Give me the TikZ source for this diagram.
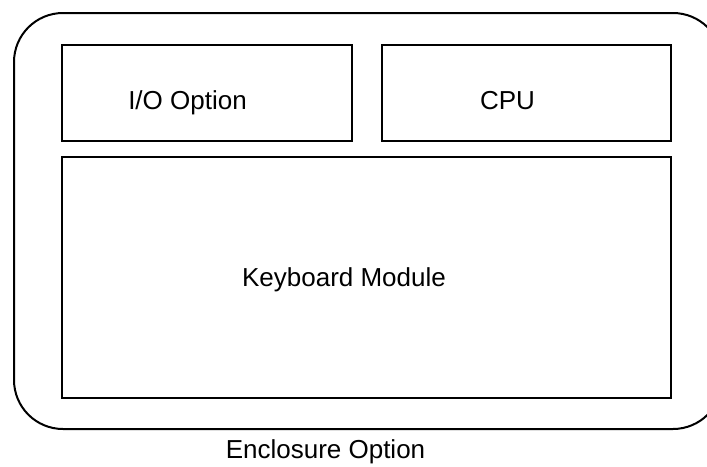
\documentclass[tikz,border=0pt]{standalone}
\usepackage{fontspec}
\setmainfont{Liberation Sans}
\begin{document}
\begin{tikzpicture}[x=1pt,y=-1pt,
  boxstyle/.style={draw=black,line width=2pt,inner sep=0pt,fill=none},
  txt/.style={font=\fontsize{26}{30}\selectfont,anchor=base,inner sep=0pt}]
\clip (0,0) rectangle (707,466);
\draw[line width=2pt,rounded corners=49pt] (14,13) rectangle (722,429);
\node[boxstyle,minimum width=290pt,minimum height=96pt] (io) at (207,93) {};
\node[boxstyle,minimum width=289pt,minimum height=96pt] (cpu) at (526.5,93) {};
\node[boxstyle,minimum width=609pt,minimum height=241pt] (kb) at (366.5,277.5) {};
\node[txt] (iot) at (187.5,109) {I/O Option};
\node[txt] (cput) at (507.5,109) {CPU};
\node[txt] (kbt) at (344,286) {Keyboard Module};
\node[txt] (enc) at (325.5,458) {Enclosure Option};
\end{tikzpicture}
\end{document}
